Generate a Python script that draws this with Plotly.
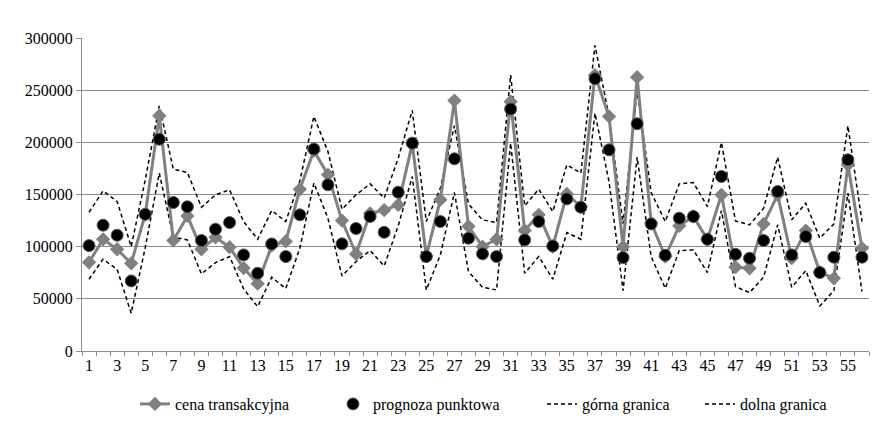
import plotly.graph_objects as go

x = list(range(1, 57))

cena = [85000, 107000, 97500, 84000, 131000, 225500, 106000, 129500, 97500, 109000,
        99500, 79500, 64500, 101000, 105000, 155000, 192000, 169000, 125000, 93000,
        132000, 135000, 140000, 198500, 91000, 145000, 240000, 119500, 100000, 107000,
        239000, 115500, 130500, 100000, 150500, 138500, 264500, 224800, 100000, 262500,
        123000, 90500, 120000, 129000, 107000, 149700, 80300, 79300, 121800, 149700,
        89000, 115400, 75500, 69700, 178400, 98500]

prognoza = [101000, 120600, 111000, 67200, 131000, 203000, 142300, 138200, 105900, 116700,
            123100, 92100, 74500, 102600, 90500, 130500, 193500, 159300, 102700, 117400,
            128900, 113800, 152200, 199200, 90500, 124100, 184200, 108100, 93100, 90500,
            231900, 106500, 124100, 100700, 145800, 137800, 261000, 192800, 89500, 217800,
            121800, 91800, 127300, 128900, 107100, 167300, 92700, 88900, 105900, 152900,
            92100, 109700, 75200, 89900, 183300, 89900]

gorna = [133000, 153500, 143300, 100100, 164000, 235000, 174300, 171100, 137800, 149700,
         154500, 124100, 107100, 134600, 124100, 163000, 224800, 191200, 135900, 149700,
         160200, 146500, 184800, 230600, 124100, 156100, 215900, 141000, 125700, 123100,
         264500, 139100, 155100, 133700, 178400, 170500, 292900, 225000, 122000, 250000,
         151900, 124100, 160200, 161500, 138500, 199900, 124700, 120900, 136900, 185800,
         125700, 141700, 108100, 121800, 215900, 124100]

dolna = [68800, 88000, 78300, 36100, 99000, 170500, 109000, 106500, 73900, 84700,
         90500, 59500, 42500, 70700, 59800, 98500, 160900, 127300, 72000, 85700,
         96300, 81500, 119900, 167200, 58500, 92100, 151900, 76100, 61100, 58500,
         199200, 74500, 90500, 68800, 113500, 107100, 228000, 162500, 57900, 185800,
         90500, 60100, 96300, 96900, 75200, 134600, 61700, 56000, 70700, 120900,
         61100, 77100, 43200, 57900, 151300, 56900]

y_ticks = [0, 50000, 100000, 150000, 200000, 250000, 300000]
x_labels = list(range(1, 57, 2))

FONT = "Liberation Serif"
GRID = "#8c8c8c"
BORDER = "#808080"
DASH = "4px,3px"

fig = go.Figure()

fig.add_trace(go.Scatter(
    x=x, y=gorna, mode="lines", name="górna granica", legend="legend3",
    line=dict(color="black", width=1.5, dash=DASH)))
fig.add_trace(go.Scatter(
    x=x, y=dolna, mode="lines", name="dolna granica", legend="legend4",
    line=dict(color="black", width=1.5, dash=DASH)))
fig.add_trace(go.Scatter(
    x=x, y=cena, mode="lines+markers", name="cena transakcyjna", legend="legend",
    line=dict(color="#808080", width=3),
    marker=dict(symbol="diamond", size=11, color="#808080")))
fig.add_trace(go.Scatter(
    x=x, y=prognoza, mode="markers", name="prognoza punktowa", legend="legend2",
    marker=dict(symbol="circle", size=12, color="black",
                line=dict(color="#5a5a5a", width=1))))

# page has an 8px body margin, so the figure is offset by (8, 8)
OFF = 8
W, H = 884 - OFF, 433 - OFF
# paper area = outer chart frame (page x 9.., page y 13..)
ML, MT, MR, MB = 9 - OFF, 13 - OFF, 0, 0
PW, PH = W - ML - MR, H - MT - MB

def px(page_x):
    return (page_x - OFF - ML) / PW

def py(page_y):
    return (H - (page_y - OFF)) / PH

leg_y = py(404)
leg_common = dict(orientation="h", yanchor="middle", xanchor="left",
                  font=dict(family=FONT, size=16, color="black"),
                  bgcolor="rgba(0,0,0,0)", borderwidth=0, y=leg_y, visible=True)

fig.update_layout(
    width=W, height=H,
    margin=dict(l=ML, r=MR, t=MT, b=MB, autoexpand=False),
    paper_bgcolor="white", plot_bgcolor="rgba(0,0,0,0)",
    showlegend=True,
    font=dict(family=FONT, size=16, color="black"),
    legend=dict(x=px(135), **leg_common),
    legend2=dict(x=px(333), **leg_common),
    legend3=dict(x=px(542), **leg_common),
    legend4=dict(x=px(700), **leg_common),
    xaxis=dict(
        domain=[px(82), px(869)],
        range=[0.5, 56.5], tickmode="array", tickvals=x_labels,
        ticktext=[str(v) for v in x_labels], ticks="", showgrid=False,
        showline=True, linecolor=GRID, linewidth=1, zeroline=False,
        automargin=False,
        tickfont=dict(family=FONT, size=16, color="black"),
        minor=dict(tickmode="array", tickvals=[v + 0.5 for v in range(0, 57)],
                   ticks="outside", ticklen=4, tickcolor=GRID, tickwidth=1,
                   showgrid=False)),
    yaxis=dict(
        domain=[py(351), py(38)],
        range=[0, 300000], tickmode="array", tickvals=y_ticks,
        ticktext=[str(v) for v in y_ticks], ticks="outside", ticklen=5,
        tickcolor=GRID, showgrid=True, gridcolor=GRID, gridwidth=1,
        showline=True, linecolor=GRID, linewidth=1, zeroline=False,
        automargin=False,
        tickfont=dict(family=FONT, size=16, color="black")),
    # outer chart frame drawn as axis lines of an empty full-paper subplot
    xaxis2=dict(domain=[0, 1], anchor="y2", side="top", range=[0, 1],
                showline=True, linecolor=BORDER, linewidth=1,
                showticklabels=False, ticks="", showgrid=False,
                zeroline=False, fixedrange=True, automargin=False),
    yaxis2=dict(domain=[0, 1], anchor="x2", side="left", range=[0, 1],
                showline=True, linecolor=BORDER, linewidth=1,
                showticklabels=False, ticks="", showgrid=False,
                zeroline=False, fixedrange=True, automargin=False),
)

fig.write_html("out.html")
